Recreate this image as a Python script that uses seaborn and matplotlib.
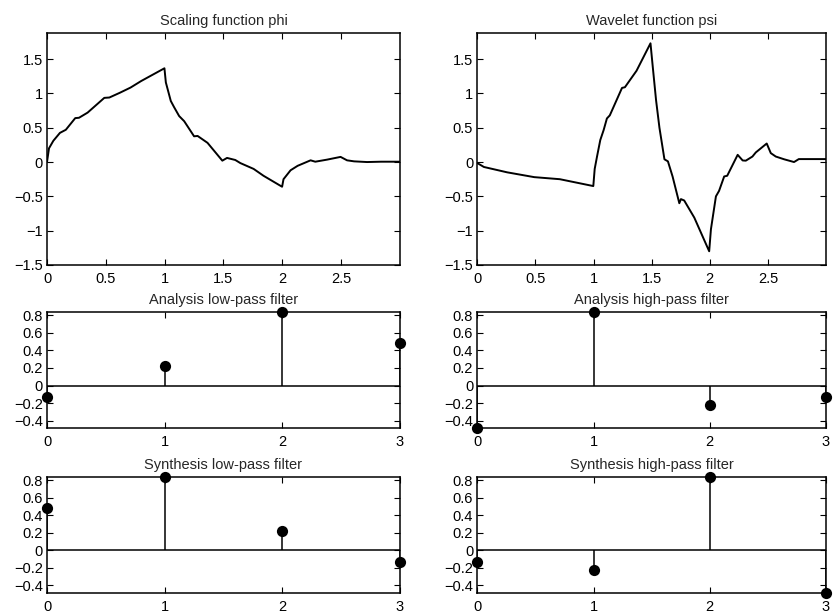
import matplotlib
matplotlib.use("Agg")
import matplotlib.pyplot as plt
import seaborn as sns
import pandas as pd
from matplotlib.ticker import FuncFormatter, FixedLocator

# ---- data ----
phi_x = [0, 0.017, 0.054, 0.11, 0.16, 0.24, 0.272, 0.345, 0.487, 0.53, 0.62, 0.71, 0.80,
         0.998, 1.01, 1.052, 1.08, 1.123, 1.166, 1.25, 1.28, 1.364, 1.49, 1.53, 1.6, 1.643,
         1.756, 1.84, 1.998, 2.01, 2.07, 2.13, 2.24, 2.28, 2.38, 2.495, 2.55, 2.61, 2.72,
         2.84, 3.0]
phi_y = [0, 0.2, 0.31, 0.425, 0.47, 0.64, 0.645, 0.72, 0.935, 0.94, 1.01, 1.085, 1.18,
         1.366, 1.16, 0.89, 0.8, 0.67, 0.595, 0.375, 0.38, 0.28, 0.02, 0.06, 0.03, -0.015,
         -0.1, -0.2, -0.36, -0.25, -0.12, -0.055, 0.025, 0.005, 0.035, 0.075, 0.025, 0.01,
         0.0, 0.005, 0.005]

psi_x = [0, 0.057, 0.257, 0.49, 0.71, 0.998, 1.01, 1.03, 1.058, 1.087, 1.115, 1.14, 1.245,
         1.27, 1.37, 1.49, 1.51, 1.538, 1.567, 1.61, 1.64, 1.68, 1.738, 1.752, 1.78, 1.867,
         1.995, 2.01, 2.053, 2.08, 2.124, 2.15, 2.24, 2.283, 2.31, 2.367, 2.396, 2.49, 2.525,
         2.568, 2.64, 2.725, 2.766, 3.0]
psi_y = [-0.015, -0.072, -0.15, -0.22, -0.25, -0.35, -0.1, 0.08, 0.32, 0.466, 0.635, 0.68,
         1.08, 1.09, 1.33, 1.73, 1.38, 0.9, 0.5, 0.04, 0.01, -0.21, -0.6, -0.54, -0.56, -0.81,
         -1.3, -0.98, -0.5, -0.42, -0.21, -0.2, 0.105, 0.023, 0.02, 0.08, 0.14, 0.27, 0.13,
         0.08, 0.04, 0.0, 0.043, 0.043]

taps = [0, 1, 2, 3]
lo_d = [-0.1294, 0.2241, 0.8365, 0.4830]
hi_d = [-0.4830, 0.8365, -0.2241, -0.1294]
lo_r = [0.4830, 0.8365, 0.2241, -0.1294]
hi_r = [-0.1294, -0.2241, 0.8365, -0.4830]

titles = ["Scaling function phi", "Wavelet function psi",
          "Analysis low-pass filter", "Analysis high-pass filter",
          "Synthesis low-pass filter", "Synthesis high-pass filter"]

curve_xticks = [0, 0.5, 1, 1.5, 2, 2.5]
curve_yticks = [-1.5, -1, -0.5, 0, 0.5, 1, 1.5]
filt_yticks = [-0.4, -0.2, 0, 0.2, 0.4, 0.6, 0.8]

# ---- style ----
sns.set_style("ticks")
plt.rcParams["font.family"] = ["Liberation Sans", "DejaVu Sans"]
plt.rcParams["axes.unicode_minus"] = True

fmt = FuncFormatter(lambda v, p: ("%g" % round(v, 4)).replace("-", "\u2212"))

fig = plt.figure(figsize=(8.34, 6.13), dpi=100)
W, H = 834.0, 613.0

def make_ax(left, right, top, bottom):
    return fig.add_axes([left / W, (H - bottom) / H, (right - left) / W, (bottom - top) / H])

cols = [(47, 400), (477.3, 826)]
rows = [(33, 265), (312, 428), (477.3, 592.7)]

axes = [[make_ax(c[0], c[1], r[0], r[1]) for c in cols] for r in rows]

def style(ax, title):
    ax.set_title(title, fontsize=10.5, pad=6)
    ax.tick_params(direction="in", top=True, right=True, length=4, width=0.8,
                   labelsize=10.5, colors="black", pad=3)
    ax.tick_params(axis="x", pad=5)
    for s in ax.spines.values():
        s.set_color("black")
        s.set_linewidth(1.1)
        s.set_visible(True)
    ax.xaxis.set_major_formatter(fmt)
    ax.yaxis.set_major_formatter(fmt)
    ax.set_xlabel("")
    ax.set_ylabel("")

# curves
for ax, xs, ys, t in [(axes[0][0], phi_x, phi_y, titles[0]), (axes[0][1], psi_x, psi_y, titles[1])]:
    df = pd.DataFrame({"x": xs, "y": ys})
    sns.lineplot(data=df, x="x", y="y", ax=ax, color="black", linewidth=1.4,
                 sort=False, estimator=None)
    ax.set_xlim(0, 3)
    ax.set_ylim(-1.5, 1.88)
    ax.xaxis.set_major_locator(FixedLocator(curve_xticks))
    ax.yaxis.set_major_locator(FixedLocator(curve_yticks))
    style(ax, t)

# stems
filters = [lo_d, hi_d, lo_r, hi_r]
fax = [axes[1][0], axes[1][1], axes[2][0], axes[2][1]]
ymin = min(min(f) for f in filters)
ymax = max(max(f) for f in filters)
for ax, vals, t in zip(fax, filters, titles[2:]):
    ax.axhline(0, color="black", linewidth=1.1, zorder=2)
    ax.vlines(taps, 0, vals, color="black", linewidth=1.1, zorder=2)
    sns.scatterplot(x=taps, y=vals, ax=ax, color="black", s=65, edgecolor="black",
                    linewidth=0, zorder=3, clip_on=False)
    ax.set_xlim(0, 3)
    ax.set_ylim(ymin, ymax)
    ax.xaxis.set_major_locator(FixedLocator(taps))
    ax.yaxis.set_major_locator(FixedLocator(filt_yticks))
    style(ax, t)

fig.savefig("out.png", dpi=100, facecolor="white")
